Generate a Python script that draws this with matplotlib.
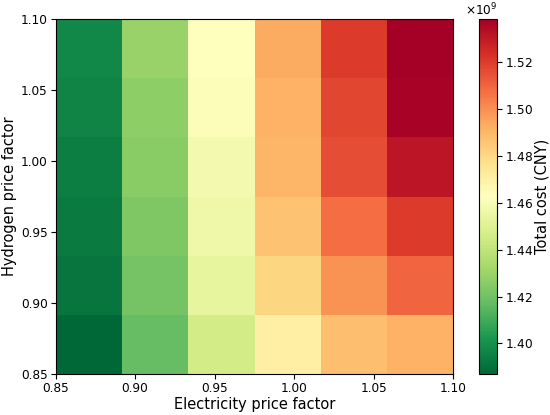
import numpy as np
import matplotlib
matplotlib.use('Agg')
import matplotlib.pyplot as plt

elec_factor = [0.85, 0.90, 0.95, 1.00, 1.05, 1.10]
h2_factor = [0.85, 0.90, 0.95, 1.00, 1.05, 1.10]

# total cost, rows = hydrogen factor (bottom -> top), cols = electricity factor
total_cost = np.array([
    [1.3870, 1.4173, 1.4461, 1.4703, 1.4877, 1.4915],
    [1.3915, 1.4211, 1.4537, 1.4809, 1.4991, 1.5097],
    [1.3930, 1.4234, 1.4567, 1.4870, 1.5082, 1.5203],
    [1.3946, 1.4256, 1.4582, 1.4900, 1.5158, 1.5309],
    [1.3961, 1.4271, 1.4612, 1.4915, 1.5173, 1.5370],
    [1.3976, 1.4294, 1.4628, 1.4931, 1.5203, 1.5385],
]) * 1e9

fig = plt.figure(figsize=(5.5, 4.15), dpi=100)
ax = fig.add_axes([0.101, 0.099, 0.723, 0.855])
cax = fig.add_axes([0.871, 0.099, 0.033, 0.855])

im = ax.imshow(total_cost, cmap='RdYlGn_r', origin='lower', aspect='auto',
               extent=[elec_factor[0], elec_factor[-1], h2_factor[0], h2_factor[-1]])
ax.set_xticks(elec_factor)
ax.set_yticks(h2_factor)
ax.tick_params(labelsize=8.7, pad=2)
ax.set_xlabel('Electricity price factor', fontsize=10.5, labelpad=2)
ax.set_ylabel('Hydrogen price factor', fontsize=10.5, labelpad=3)

cb = fig.colorbar(im, cax=cax)
cb.ax.tick_params(labelsize=8.7, pad=2)
cb.formatter.set_powerlimits((0, 0))
cb.formatter.set_useMathText(True)
cb.ax.yaxis.get_offset_text().set_fontsize(8.7)
cb.update_ticks()
cb.set_label('Total cost (CNY)', fontsize=10.5, labelpad=1)

fig.savefig('out.png', dpi=100)
